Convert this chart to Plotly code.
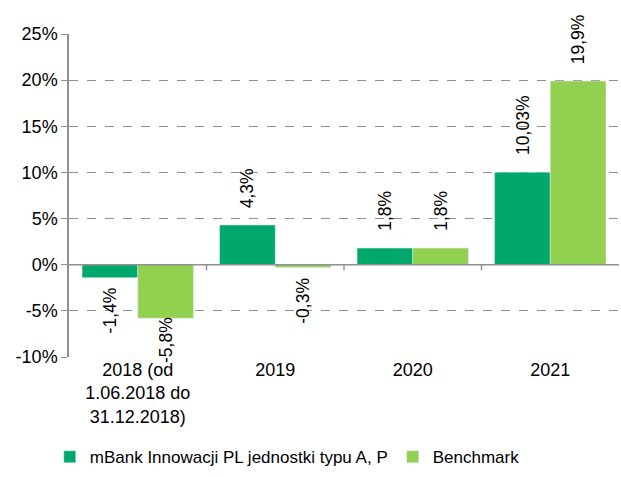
import plotly.graph_objects as go

categories = ["2018 (od<br>1.06.2018 do<br>31.12.2018)", "2019", "2020", "2021"]
fund_name = "mBank Innowacji PL jednostki typu A, P"
bench_name = "Benchmark"
fund_values = [-1.4, 4.3, 1.8, 10.03]
bench_values = [-5.8, -0.3, 1.8, 19.9]
fund_labels = ["-1,4%", "4,3%", "1,8%", "10,03%"]
bench_labels = ["-5,8%", "-0,3%", "1,8%", "19,9%"]
y_ticks = [-10, -5, 0, 5, 10, 15, 20, 25]
y_tick_text = ["-10%", "-5%", "0%", "5%", "10%", "15%", "20%", "25%"]

FUND_COLOR = "#00A86B"
BENCH_COLOR = "#92D050"
GRID = "#909090"
FONT = "Liberation Sans, Arial, sans-serif"
FS = 18
FS_LBL = 17.5
FS_LEG = 17
Y_MIN, Y_MAX = -10, 25

fig = go.Figure()
fig.add_trace(go.Bar(name=fund_name, x=categories, y=fund_values, marker_color=FUND_COLOR))
fig.add_trace(go.Bar(name=bench_name, x=categories, y=bench_values, marker_color=BENCH_COLOR))

annotations = []
for vals, labels, shift in [(fund_values, fund_labels, -28), (bench_values, bench_labels, 28)]:
    for i, (v, t) in enumerate(zip(vals, labels)):
        a = dict(x=i, y=v, text=t, textangle=-90, showarrow=False, xshift=shift,
                 font=dict(size=FS_LBL, family=FONT, color="#000"))
        if v >= 0:
            a.update(yshift=15, yanchor="bottom")
        elif v - 7 < Y_MIN:
            a.update(yshift=3, yanchor="top")
        else:
            a.update(yshift=-8, yanchor="top")
        annotations.append(a)

# zero axis line with tick marks between categories
shapes = [dict(type="line", xref="paper", yref="y", x0=0, x1=1, y0=0, y1=0,
               line=dict(color=GRID, width=1.5))]
for i in range(1, len(categories)):
    shapes.append(dict(type="line", xref="x", yref="y", x0=i - 0.5, x1=i - 0.5,
                       y0=0, y1=-0.6, line=dict(color=GRID, width=1.5)))

fig.update_layout(
    width=621, height=477,
    margin=dict(l=69, r=2, t=34, b=120),
    paper_bgcolor="white", plot_bgcolor="white",
    font=dict(family=FONT, size=FS, color="#000"),
    barmode="group", bargap=0.19, bargroupgap=0,
    xaxis=dict(categoryorder="array", categoryarray=categories, showline=False,
               ticks="", showgrid=False, tickfont=dict(size=FS), range=[-0.5, 3.5],
               automargin=False),
    yaxis=dict(range=[Y_MIN, Y_MAX], tickvals=y_ticks, ticktext=y_tick_text, showgrid=True,
               gridcolor=GRID, griddash="dash", gridwidth=1.3, zeroline=False,
               showline=True, linecolor=GRID, linewidth=1.5, ticks="outside", ticklen=6,
               tickcolor=GRID, tickfont=dict(size=FS), automargin=False),
    legend=dict(orientation="h", x=-0.035, xanchor="left", y=-0.366, yanchor="bottom",
                font=dict(size=FS_LEG), itemwidth=30, traceorder="normal"),
    annotations=annotations,
    shapes=shapes,
)

fig.write_html("out.html", config={"displayModeBar": False},
               post_script="document.body.style.margin='0';")
